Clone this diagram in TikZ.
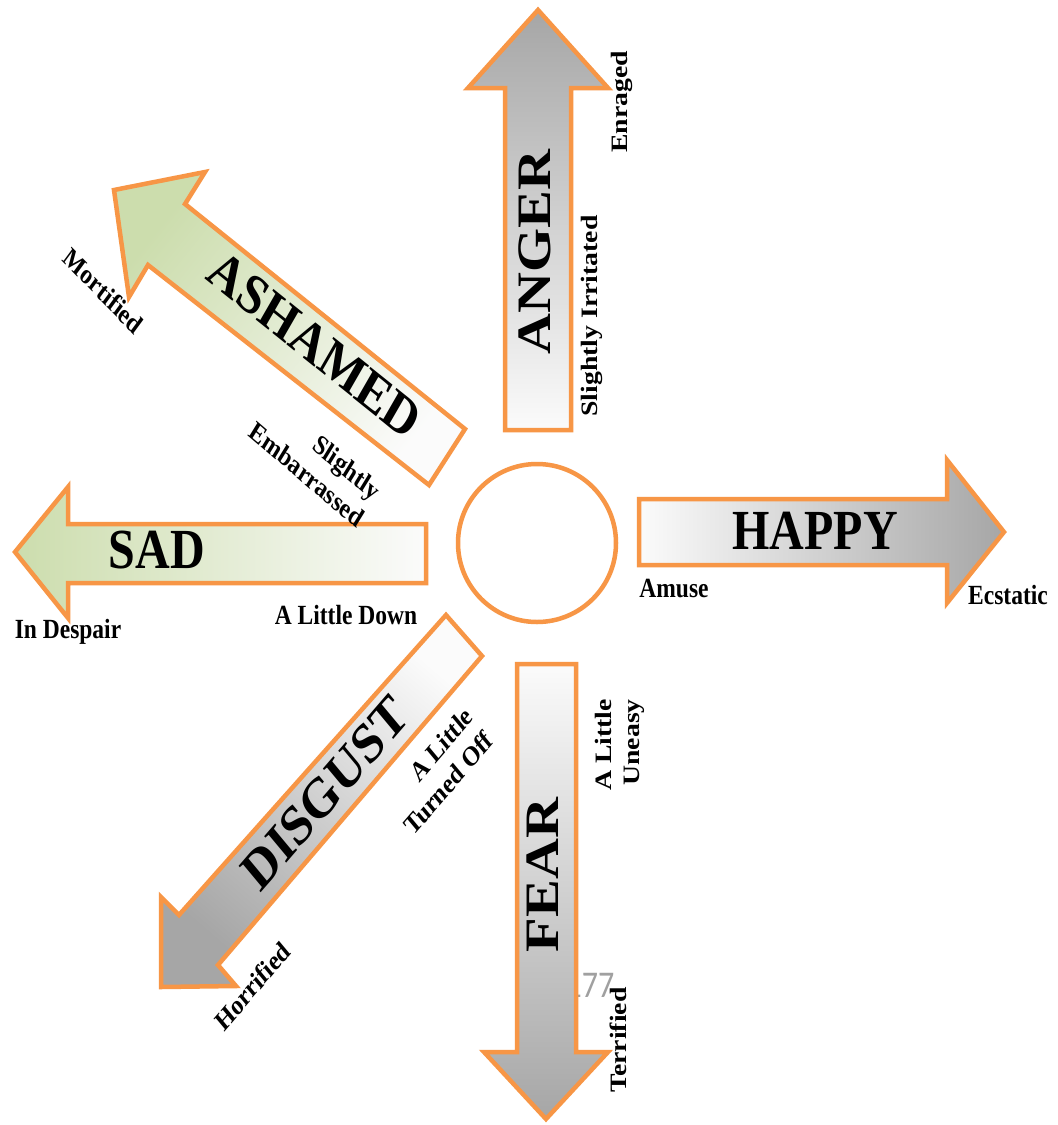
\documentclass[tikz,border=0pt]{standalone}
\usepackage{fontspec}
\setmainfont{Liberation Serif}
\newfontfamily\pgnumfont{Carlito}
\usepackage{graphicx}
\definecolor{arrowline}{HTML}{F79646}
\definecolor{headgray}{HTML}{A6A6A6}
\definecolor{headgreen}{HTML}{CCDDAD}
\definecolor{tailwhite}{HTML}{FBFBFB}
\definecolor{pagegray}{HTML}{A0A0A0}
\newcommand\biglab[2]{\scalebox{1}[1.18]{\rotatebox{#1}{\fontsize{48pt}{56pt}\selectfont\bfseries #2}}}
\newcommand\smlab[2]{\scalebox{1}[1.18]{\rotatebox{#1}{\fontsize{23.5pt}{28.5pt}\selectfont\bfseries\begin{tabular}{@{}r@{}}#2\end{tabular}}}}
\tikzset{
  arrowshape/.style={draw=arrowline, line width=4.5pt, line join=miter},
  grayarrow/.style={arrowshape, top color=headgray, bottom color=tailwhite, shading angle=#1},
  greenarrow/.style={arrowshape, top color=headgreen, bottom color=tailwhite, shading angle=#1},
  lbl/.style={inner sep=0pt, outer sep=0pt}
}
\begin{document}
\begin{tikzpicture}[x=1pt, y=-1pt]
\useasboundingbox (0,0) rectangle (1058,1125);
\fill[white] (0,0) rectangle (1058,1125);

% page number behind FEAR arrow
\node[lbl, text=pagegray] (pagenum) at (590,985) {\scalebox{1}[1.18]{\fontsize{32pt}{36pt}\pgnumfont 177}};

% ANGER (up)
\draw[grayarrow=0] (505,430) -- (571,430) -- (571,88) -- (608,88) -- (538,10) -- (468,88) -- (505,88) -- cycle;
% HAPPY (right)
\draw[grayarrow=-90] (639,499) -- (947,499) -- (947,460) -- (1004,532) -- (947,603) -- (947,565) -- (639,565) -- cycle;
% FEAR (down)
\draw[grayarrow=180] (517,664) -- (576,664) -- (576,1052) -- (608,1052) -- (546,1119) -- (484,1052) -- (517,1052) -- cycle;
% SAD (left)
\draw[greenarrow=90] (426,524) -- (68,524) -- (68,487) -- (15,552) -- (68,618) -- (68,583) -- (426,583) -- cycle;
% ASHAMED (up-left)
\draw[greenarrow=51.3] (465,429) -- (185,204) -- (205,172) -- (114,190) -- (129,297) -- (148,265) -- (429,485) -- cycle;
% DISGUST (down-left)
\draw[grayarrow=139.2] (446,615) -- (179,915) -- (161,897) -- (161,987) -- (236,986) -- (218,965) -- (482,656) -- cycle;

% centre circle
\node[circle, draw=arrowline, line width=4.5pt, minimum size=158pt, inner sep=0pt] (core) at (537,543) {};

% labels
\node[lbl] (anger) at (535,252) {\biglab{90}{ANGER}};
\node[lbl] (irritated) at (592,316) {\smlab{90}{Slightly Irritated}};
\node[lbl] (enraged) at (622,102) {\smlab{90}{Enraged}};

\node[lbl] (happy) at (815,531) {\biglab{0}{HAPPY}};
\node[lbl] (amuse) at (674,591) {\smlab{0}{Amuse}};
\node[lbl] (ecstatic) at (1008,598) {\smlab{0}{Ecstatic}};

\node[lbl] (sad) at (157,550) {\biglab{0}{SAD}};
\node[lbl] (down) at (346,618) {\smlab{0}{A Little Down}};
\node[lbl] (despair) at (68,632) {\smlab{0}{In Despair}};

\node[lbl] (ashamed) at (315,345) {\biglab{-34.2}{ASHAMED}};
\node[lbl] (mortified) at (102,293) {\smlab{-41}{Mortified}};
\node[lbl] (embarrassed) at (314,463) {\smlab{-36}{Slightly\\Embarrassed}};

\node[lbl] (disgust) at (325,793) {\biglab{44.5}{DISGUST}};
\node[lbl] (turnedoff) at (440,773) {\smlab{44.5}{A Little\\Turned Off}};
\node[lbl] (horrified) at (254,988) {\smlab{44.5}{Horrified}};

\node[lbl] (fear) at (543,875) {\biglab{90}{FEAR}};
\node[lbl] (uneasy) at (620,745) {\smlab{90}{A Little\\Uneasy}};
\node[lbl] (terrified) at (621,1040) {\smlab{90}{Terrified}};
\end{tikzpicture}
\end{document}
